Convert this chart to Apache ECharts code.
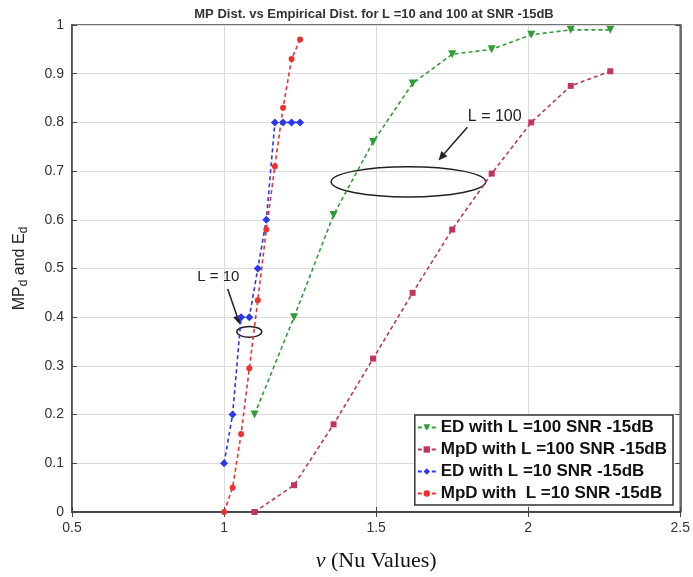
<!DOCTYPE html>
<html lang="en">
<head>
    <meta charset="UTF-8">
    <title>MP Dist vs Empirical Dist</title>
    <script src="https://cdn.jsdelivr.net/npm/echarts@6/dist/echarts.min.js"></script>
</head>
<body style="margin:0; background:#fff;">
<div id="main" style="width:693px; height:577px;"></div>
</body>
<script type="text/javascript">

    // 데이터
    let nuL100 = [1.10, 1.23, 1.36, 1.49, 1.62, 1.75, 1.88, 2.01, 2.14, 2.27];
    let edL100 = [0.20, 0.40, 0.61, 0.76, 0.88, 0.94, 0.95, 0.98, 0.99, 0.99];
    let mpdL100 = [0.00, 0.055, 0.18, 0.315, 0.45, 0.58, 0.695, 0.80, 0.875, 0.905];

    let nuL10 = [1.000, 1.028, 1.056, 1.083, 1.111, 1.139, 1.167, 1.194, 1.222, 1.250];
    let edL10 = [0.10, 0.20, 0.40, 0.40, 0.50, 0.60, 0.80, 0.80, 0.80, 0.80];
    let mpdL10 = [0.00, 0.05, 0.16, 0.295, 0.435, 0.58, 0.71, 0.83, 0.93, 0.97];

    let seriesNames = ['ED with L =100 SNR -15dB', 'MpD with L =100 SNR -15dB',
        'ED with L =10 SNR -15dB', 'MpD with  L =10 SNR -15dB'];

    function pairs(xs, ys) {
        return xs.map(function (x, i) { return [x, ys[i]]; });
    }

    function makeSeries(name, xs, ys, color, symbol, size, rotate) {
        return {
            name: name,
            type: 'line',
            data: pairs(xs, ys),
            symbol: symbol,
            symbolSize: size,
            symbolRotate: rotate || 0,
            itemStyle: {color: color},
            lineStyle: {color: color, width: 1.6, type: [4, 3]},
            animation: false
        };
    }

    let myChart = echarts.init(document.getElementById('main'));

    let tickStyle = {show: true, inside: true, length: 5, lineStyle: {color: '#444'}};

    let option = {
        backgroundColor: '#fff',
        title: {
            text: 'MP Dist. vs Empirical Dist. for L =10 and 100 at SNR -15dB',
            left: 369,
            textAlign: 'center',
            top: 3,
            textStyle: {fontSize: 13, fontWeight: 'bold', color: '#333', fontFamily: 'Arial'}
        },
        grid: {
            left: 72, right: 10, top: 25, bottom: 65,
            show: true, borderColor: '#444', borderWidth: 1.5
        },
        legend: {
            orient: 'vertical',
            right: 20,
            bottom: 72,
            itemGap: 5,
            itemWidth: 18,
            itemHeight: 8,
            padding: [4, 6, 3, 2],
            backgroundColor: '#fff',
            borderColor: '#333',
            borderWidth: 1.5,
            textStyle: {fontSize: 17, fontWeight: 'bold', color: '#111', fontFamily: 'Arial'},
            data: seriesNames
        },
        xAxis: [{
            type: 'value', min: 0.5, max: 2.5, interval: 0.5,
            axisLine: {show: true, lineStyle: {color: '#444', width: 1.5}},
            axisTick: tickStyle,
            axisLabel: {fontSize: 14, color: '#333', fontFamily: 'Arial', margin: 9},
            splitLine: {show: true, lineStyle: {color: '#dcdcdc'}},
            name: '{i|\u03bd} (Nu Values)',
            nameLocation: 'middle',
            nameGap: 38,
            nameTextStyle: {
                fontSize: 22, color: '#111', fontFamily: 'Liberation Serif',
                rich: {i: {fontSize: 22, fontStyle: 'italic', color: '#111', fontFamily: 'Liberation Serif'}}
            }
        }, {
            type: 'value', position: 'top', min: 0.5, max: 2.5, interval: 0.5,
            axisLine: {show: true, lineStyle: {color: '#444', width: 1.5}},
            axisTick: tickStyle,
            axisLabel: {show: false},
            splitLine: {show: false}
        }],
        yAxis: [{
            type: 'value', min: 0, max: 1, interval: 0.1,
            axisLine: {show: true, lineStyle: {color: '#444', width: 1.5}},
            axisTick: tickStyle,
            axisLabel: {fontSize: 14, color: '#333', fontFamily: 'Arial', margin: 8},
            splitLine: {show: true, lineStyle: {color: '#dcdcdc'}},
            name: '{n|MP}{s|d}{n| and E}{s|d}',
            nameLocation: 'middle',
            nameGap: 42,
            nameTextStyle: {
                rich: {
                    n: {fontSize: 16, color: '#222', fontFamily: 'Arial'},
                    s: {fontSize: 12, color: '#222', fontFamily: 'Arial', verticalAlign: 'bottom', padding: [9, 0, 0, 0]}
                }
            }
        }, {
            type: 'value', position: 'right', min: 0, max: 1, interval: 0.1,
            axisLine: {show: true, lineStyle: {color: '#444', width: 1.5}},
            axisTick: tickStyle,
            axisLabel: {show: false},
            splitLine: {show: false}
        }],
        series: [
            makeSeries(seriesNames[0], nuL100, edL100, '#2e9e34', 'triangle', 8, 180),
            makeSeries(seriesNames[1], nuL100, mpdL100, '#c2345a', 'rect', 6),
            makeSeries(seriesNames[2], nuL10, edL10, '#2a36f0', 'diamond', 8),
            makeSeries(seriesNames[3], nuL10, mpdL10, '#f03030', 'circle', 6)
        ]
    };

    myChart.setOption(option);

    // 주석(타원, 화살표, 텍스트)을 데이터 좌표로 배치합니다
    function px(x, y) {
        return myChart.convertToPixel({gridIndex: 0}, [x, y]);
    }

    function arrow(from, to) {
        let a = px(from[0], from[1]);
        let b = px(to[0], to[1]);
        let ang = Math.atan2(b[1] - a[1], b[0] - a[0]);
        let h = 9, w = 4;
        let bx = b[0] - h * Math.cos(ang), by = b[1] - h * Math.sin(ang);
        return [{
            type: 'line',
            shape: {x1: a[0], y1: a[1], x2: bx, y2: by},
            style: {stroke: '#222', lineWidth: 1.5}
        }, {
            type: 'polygon',
            shape: {points: [b,
                [bx + w * Math.sin(ang), by - w * Math.cos(ang)],
                [bx - w * Math.sin(ang), by + w * Math.cos(ang)]]},
            style: {fill: '#222'}
        }];
    }

    function ellipse(cx, cy, rxData, ryData) {
        let c = px(cx, cy);
        let e = px(cx + rxData, cy + ryData);
        return {
            type: 'ellipse',
            shape: {cx: c[0], cy: c[1], rx: Math.abs(e[0] - c[0]), ry: Math.abs(e[1] - c[1])},
            style: {fill: 'none', stroke: '#222', lineWidth: 1.5}
        };
    }

    function label(text, x, y, size) {
        let p = px(x, y);
        return {
            type: 'text',
            x: p[0], y: p[1],
            style: {text: text, fill: '#222', font: size + 'px Arial', align: 'center', verticalAlign: 'middle'}
        };
    }

    let elements = [].concat(
        [ellipse(1.606, 0.678, 0.254, 0.031)],
        arrow([1.80, 0.79], [1.705, 0.722]),
        [label('L = 100', 1.89, 0.812, 16)],
        [ellipse(1.083, 0.37, 0.041, 0.011)],
        arrow([1.012, 0.458], [1.052, 0.385]),
        [label('L = 10', 0.981, 0.483, 15)]
    );

    myChart.setOption({graphic: {elements: elements}});
</script>
</html>
